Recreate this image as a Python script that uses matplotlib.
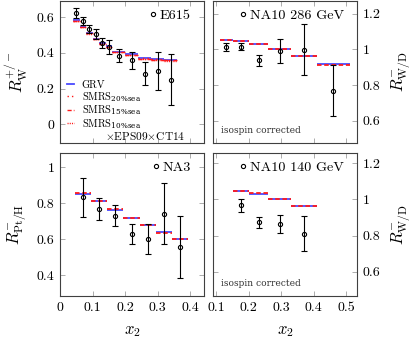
import matplotlib
matplotlib.use("Agg")
import matplotlib.pyplot as plt
from matplotlib.lines import Line2D
import numpy as np

plt.rcParams['font.family'] = ['cmr10', 'DejaVu Serif']
plt.rcParams['mathtext.fontset'] = 'cm'
plt.rcParams['axes.formatter.use_mathtext'] = True

# ---------------- data ----------------
# E615  R_W^{+/-}
e615_x = [0.05, 0.07, 0.09, 0.11, 0.13, 0.15, 0.18, 0.22, 0.26, 0.30, 0.34]
e615_y = [0.622, 0.578, 0.535, 0.505, 0.455, 0.432, 0.384, 0.358, 0.284, 0.298, 0.250]
e615_err = [0.027, 0.023, 0.023, 0.028, 0.029, 0.040, 0.038, 0.047, 0.065, 0.107, 0.145]
e615_edges = [0.04, 0.06, 0.08, 0.10, 0.12, 0.14, 0.16, 0.20, 0.24, 0.28, 0.32, 0.36]
e615_grv = [0.582, 0.545, 0.511, 0.479, 0.455, 0.436, 0.407, 0.392, 0.371, 0.366, 0.361]
e615_smrs20 = [0.580, 0.544, 0.510, 0.478, 0.453, 0.435, 0.405, 0.390, 0.369, 0.364, 0.359]
e615_smrs15 = [0.580, 0.543, 0.509, 0.477, 0.452, 0.433, 0.404, 0.389, 0.368, 0.362, 0.357]
e615_smrs10 = [0.579, 0.542, 0.508, 0.476, 0.451, 0.432, 0.402, 0.387, 0.366, 0.359, 0.352]

# NA10 286 GeV  R_W/D
na286_x = [0.13, 0.175, 0.23, 0.295, 0.37, 0.46]
na286_y = [1.013, 1.013, 0.937, 0.991, 0.998, 0.767]
na286_err = [0.024, 0.020, 0.033, 0.068, 0.143, 0.142]
na286_edges = [0.11, 0.15, 0.20, 0.26, 0.33, 0.41, 0.51]
na286_grv = [1.050, 1.044, 1.027, 1.001, 0.963, 0.915]
na286_smrs = [1.053, 1.047, 1.028, 0.999, 0.962, 0.914]

# NA3  R_Pt/H
na3_x = [0.07, 0.12, 0.17, 0.22, 0.27, 0.32, 0.37]
na3_y = [0.833, 0.769, 0.731, 0.631, 0.600, 0.743, 0.556]
na3_err = [0.110, 0.060, 0.058, 0.057, 0.083, 0.169, 0.172]
na3_edges = [0.045, 0.095, 0.145, 0.195, 0.245, 0.295, 0.345, 0.395]
na3_grv = [0.854, 0.813, 0.765, 0.720, 0.678, 0.639, 0.601]
na3_smrs = [0.855, 0.814, 0.766, 0.720, 0.677, 0.638, 0.600]

# NA10 140 GeV  R_W/D
na140_x = [0.175, 0.23, 0.295, 0.37]
na140_y = [0.967, 0.874, 0.862, 0.810]
na140_err = [0.037, 0.030, 0.050, 0.097]
na140_edges = [0.15, 0.20, 0.26, 0.33, 0.41]
na140_grv = [1.047, 1.032, 1.003, 0.965]
na140_smrs = [1.049, 1.034, 1.004, 0.964]

# ticks
tl_yticks = [0, 0.2, 0.4, 0.6]
tl_ylabels = ['0', '0.2', '0.4', '0.6']
r_yticks = [0.6, 0.8, 1.0, 1.2]
r_ylabels = ['0.6', '0.8', '1', '1.2']
bl_yticks = [0.4, 0.6, 0.8, 1.0]
bl_ylabels = ['0.4', '0.6', '0.8', '1']
l_xticks = [0, 0.1, 0.2, 0.3, 0.4]
l_xlabels = ['0', '0.1', '0.2', '0.3', '0.4']
r_xticks = [0.1, 0.2, 0.3, 0.4, 0.5]
r_xlabels = ['0.1', '0.2', '0.3', '0.4', '0.5']

model_labels = ['GRV', r'SMRS$_{\mathrm{20\%sea}}$', r'SMRS$_{\mathrm{15\%sea}}$',
                r'SMRS$_{\mathrm{10\%sea}}$']

# ---------------- figure ----------------
W, H = 416, 340
fig = plt.figure(figsize=(W / 100, H / 100), dpi=100)

def ax_at(x0, y0, x1, y1):
    return fig.add_axes([x0 / W, 1 - y1 / H, (x1 - x0) / W, (y1 - y0) / H])

ax_tl = ax_at(60, 1, 204, 143)
ax_tr = ax_at(213, 1, 357, 143)
ax_bl = ax_at(60, 153, 204, 296)
ax_br = ax_at(213, 153, 357, 296)

BLUE = '#4a4aff'
RED = '#ff1a1a'
TICKFS = 10
LS20 = (0, (1, 2.2))
LS15 = (0, (3, 1.5, 1, 1.5))
LS10 = (0, (0.8, 0.8))

for ax in (ax_tl, ax_tr, ax_bl, ax_br):
    for s in ax.spines.values():
        s.set_color('0.25')
        s.set_linewidth(0.8)
    ax.tick_params(direction='in', length=3.5, width=0.5, color='0.55',
                   top=True, right=True, labelsize=TICKFS, pad=4)

def steps(ax, edges, vals, **kw):
    e = np.asarray(edges)
    ax.hlines(vals, e[:-1], e[1:], **kw)

def data(ax, x, y, err, label):
    ax.errorbar(x, y, yerr=err, fmt='none', ecolor='black', elinewidth=0.8,
                capsize=2.2, capthick=0.8, zorder=5)
    ax.plot(x, y, ls='none', marker='o', ms=3.0, mfc='none', mec='black',
            mew=0.8, zorder=6, label=label)
    ax.legend(loc='center right', bbox_to_anchor=(1 - 13 / 144, 1 - 14.5 / 142),
              frameon=False, fontsize=10.2, handlelength=0.3,
              handletextpad=0.35, borderaxespad=0, borderpad=0)

# top-left
steps(ax_tl, e615_edges, e615_grv, colors=BLUE, lw=1.3, zorder=2)
steps(ax_tl, e615_edges, e615_smrs20, colors=RED, lw=1.0, linestyles=LS20, zorder=3)
steps(ax_tl, e615_edges, e615_smrs15, colors=RED, lw=1.0, linestyles=LS15, zorder=3)
steps(ax_tl, e615_edges, e615_smrs10, colors=RED, lw=1.0, linestyles=LS10, zorder=3)
data(ax_tl, e615_x, e615_y, e615_err, 'E615')
ax_tl.set_xlim(0, 0.443)
ax_tl.set_ylim(-0.105, 0.69)
ax_tl.set_yticks(tl_yticks, tl_ylabels)
ax_tl.set_xticks(l_xticks)
ax_tl.tick_params(labelbottom=False)
ax_tl.set_ylabel(r'$R_{\mathrm{W}}^{+/-}$', fontsize=12, labelpad=5)

h = [Line2D([], [], color=BLUE, lw=1.3),
     Line2D([], [], color=RED, lw=1.0, ls=LS20),
     Line2D([], [], color=RED, lw=1.0, ls=LS15),
     Line2D([], [], color=RED, lw=1.0, ls=LS10)]
leg_data = ax_tl.get_legend()
leg2 = ax_tl.legend(h, model_labels, loc='upper left',
                    bbox_to_anchor=(0.05, 0.44),
                    frameon=False, fontsize=7.5, handlelength=0.65,
                    handletextpad=0.75, labelspacing=0.0, borderpad=0,
                    borderaxespad=0)
for t in leg2.get_texts():
    t.set_math_fontfamily('dejavuserif')
ax_tl.add_artist(leg_data)
ax_tl.text(0.3125, 0.05, r'$\times$EPS09$\times$CT14', transform=ax_tl.transAxes,
           fontsize=8.2, ha='left', va='center')

# top-right
steps(ax_tr, na286_edges, na286_grv, colors=BLUE, lw=1.3, zorder=2)
steps(ax_tr, na286_edges, na286_smrs, colors=RED, lw=1.3, linestyles=(0, (2.5, 1.5)), zorder=3)
data(ax_tr, na286_x, na286_y, na286_err, 'NA10 286 GeV')
ax_tr.set_xlim(0.09, 0.533)
ax_tr.set_ylim(0.475, 1.27)
ax_tr.set_xticks(r_xticks)
ax_tr.tick_params(labelbottom=False, labelleft=False, labelright=True)
ax_tr.set_yticks(r_yticks, r_ylabels)
ax_tr.yaxis.set_label_position('right')
ax_tr.set_ylabel(r'$R^{-}_{\mathrm{W/D}}$', fontsize=12, labelpad=6)
ax_tr.text(0.056, 0.085, 'isospin corrected', transform=ax_tr.transAxes,
           fontsize=6.5, family='DejaVu Serif', color='0.2', va='center')

# bottom-left
steps(ax_bl, na3_edges, na3_grv, colors=BLUE, lw=1.3, zorder=2)
steps(ax_bl, na3_edges, na3_smrs, colors=RED, lw=1.3, linestyles=(0, (2.5, 1.5)), zorder=3)
data(ax_bl, na3_x, na3_y, na3_err, 'NA3')
ax_bl.set_xlim(0, 0.443)
ax_bl.set_ylim(0.285, 1.08)
ax_bl.set_yticks(bl_yticks, bl_ylabels)
ax_bl.set_xticks(l_xticks, l_xlabels)
ax_bl.set_xlabel(r'$x_2$', fontsize=12, labelpad=7)
ax_bl.set_ylabel(r'$R^{-}_{\mathrm{Pt/H}}$', fontsize=12, labelpad=6)

# bottom-right
steps(ax_br, na140_edges, na140_grv, colors=BLUE, lw=1.3, zorder=2)
steps(ax_br, na140_edges, na140_smrs, colors=RED, lw=1.3, linestyles=(0, (2.5, 1.5)), zorder=3)
data(ax_br, na140_x, na140_y, na140_err, 'NA10 140 GeV')
ax_br.set_xlim(0.09, 0.533)
ax_br.set_ylim(0.465, 1.257)
ax_br.set_xticks(r_xticks, r_xlabels)
ax_br.tick_params(labelleft=False, labelright=True)
ax_br.set_yticks(r_yticks, r_ylabels)
ax_br.yaxis.set_label_position('right')
ax_br.set_ylabel(r'$R^{-}_{\mathrm{W/D}}$', fontsize=12, labelpad=6)
ax_br.set_xlabel(r'$x_2$', fontsize=12, labelpad=7)
ax_br.text(0.056, 0.085, 'isospin corrected', transform=ax_br.transAxes,
           fontsize=6.5, family='DejaVu Serif', color='0.2', va='center')

fig.savefig('out.png', dpi=100)
